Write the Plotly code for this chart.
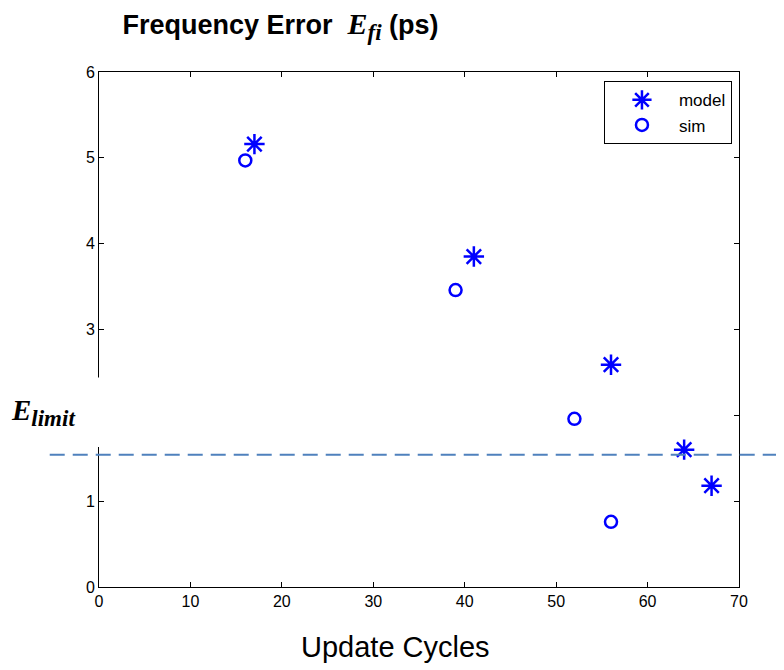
import plotly.graph_objects as go

model_x = [17, 41, 56, 64, 67]
model_y = [5.16, 3.85, 2.59, 1.60, 1.18]
sim_x = [16, 39, 52, 56]
sim_y = [4.97, 3.46, 1.96, 0.76]
e_limit = 1.54
x_ticks = [0, 10, 20, 30, 40, 50, 60, 70]
y_ticks = [0, 1, 2, 3, 4, 5, 6]

BLUE = "#0000FF"
SANS = "Liberation Sans, Arial, sans-serif"
SERIF = "Liberation Serif, DejaVu Serif, serif"

fig = go.Figure()
fig.add_trace(go.Scatter(
    x=model_x, y=model_y, mode="markers", name="model",
    marker=dict(symbol="asterisk-open", size=17, color=BLUE,
                line=dict(color=BLUE, width=2.5)),
))
fig.add_trace(go.Scatter(
    x=sim_x, y=sim_y, mode="markers", name="sim",
    marker=dict(symbol="circle-open", size=12, color=BLUE,
                line=dict(color=BLUE, width=2.5)),
))

# E_limit dashed line, runs past the axes
fig.add_shape(type="line", xref="paper", yref="y",
              x0=-0.077, x1=1.1, y0=e_limit, y1=e_limit,
              line=dict(color="#4F81BD", width=2, dash="15px,8px"))
# white patch behind the E_limit label (hides part of the y axis)
fig.add_shape(type="rect", xref="paper", yref="y", layer="above",
              x0=-0.16, x1=0.011, y0=1.63, y1=2.44,
              line=dict(width=0), fillcolor="white")

fig.add_annotation(
    text="<b><i>E<sub><span style='font-size:23px'>limit</span></sub></i></b>",
    xref="paper", yref="y", x=-0.14, y=2.03, xanchor="left",
    showarrow=False, font=dict(family=SERIF, size=29, color="black"),
)

# x title as annotation (sits left of the axis centre in the original)
fig.add_annotation(
    text="Update Cycles", xref="paper", yref="paper",
    x=0.4625, y=-0.116, xanchor="center", yanchor="middle", showarrow=False,
    font=dict(family=SANS, size=29, color="black"),
)

axis_common = dict(
    showline=True, linecolor="black", linewidth=1, mirror="ticks",
    ticks="inside", ticklen=5, tickcolor="black", showgrid=False,
    zeroline=False, tickfont=dict(family=SANS, size=16, color="black"),
)

fig.update_xaxes(range=[0, 70], tickvals=x_ticks, **axis_common)
fig.update_yaxes(range=[0, 6], tickvals=y_ticks, **axis_common)

fig.update_layout(
    width=784, height=670,
    margin=dict(l=91, r=53, t=64, b=91),
    paper_bgcolor="white", plot_bgcolor="white",
    title=dict(
        text=("<b>Frequency Error  </b><span style='font-family:Liberation Serif, serif;font-size:30px'>"
              "<b><i>E<sub><span style='font-size:23px'>fi</span></sub></i></b></span><b> (ps)</b>"),
        xref="container", yref="container", x=0.146, xanchor="left",
        y=0.976, yanchor="middle",
        font=dict(family=SANS, size=27, color="black"),
    ),
    legend=dict(
        x=0.989, y=0.982, xanchor="right", yanchor="top",
        bordercolor="black", borderwidth=1, bgcolor="white",
        font=dict(family=SANS, size=17, color="black"),
        itemwidth=64,
    ),
)

fig.write_html("out.html")
